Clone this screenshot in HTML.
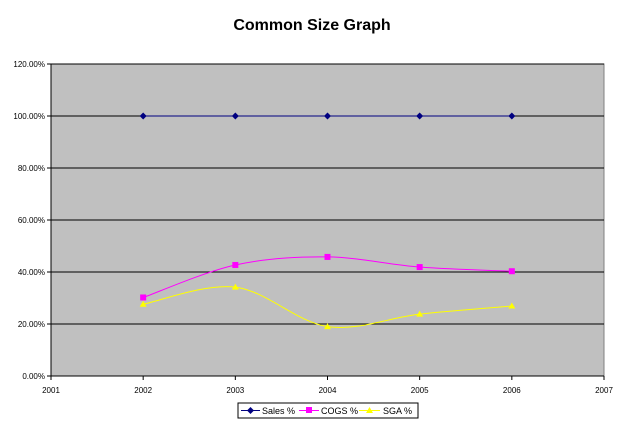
<!DOCTYPE html>
<html><head><meta charset="utf-8"><style>
body{margin:0;background:#fff;font-family:"Liberation Sans",Arial,sans-serif}
</style></head><body>
<svg id="c" width="625" height="429" style="display:block">
<text x="312" y="30" text-anchor="middle" font-size="16" font-weight="bold">Common Size Graph</text>
<g id="plot"></g>
<g>
<rect x="238" y="403" width="180" height="15" fill="#fff" stroke="#000"/>
<g><line x1="241" y1="410.5" x2="260" y2="410.5" stroke="#000080"/><path d="M250.5 407l3.5 3.5-3.5 3.5-3.5-3.5z" fill="#000080"/><text x="262" y="414" font-size="9">Sales %</text></g>
<g><line x1="299" y1="410.5" x2="319" y2="410.5" stroke="#f0f"/><rect x="306" y="407" width="6" height="6" fill="#f0f"/><text x="321" y="414" font-size="9">COGS %</text></g>
<g><line x1="359" y1="410.5" x2="380" y2="410.5" stroke="#ff0"/><path d="M369.5 407l3.5 6h-7z" fill="#ff0"/><text x="383" y="414" font-size="9">SGA %</text></g>
</g>
</svg>
<script>
const years=[2002,2003,2004,2005,2006];
const sales=[100,100,100,100,100];
const cogs=[30.2,42.7,45.8,41.9,40.3];
const sga=[27.6,34.2,19.0,23.8,26.9];
const yTicks=[0,20,40,60,80,100,120];
const xTicks=[2001,2002,2003,2004,2005,2006,2007];
const L=51,R=604,T=64,B=376;
const sx=v=>L+(v-2001)/6*(R-L), sy=v=>B-v/120*(B-T);
const NS="http://www.w3.org/2000/svg", g=document.getElementById('plot');
function mk(t,a,txt){const e=document.createElementNS(NS,t);for(const k in a)e.setAttribute(k,a[k]);if(txt!=null)e.textContent=txt;g.appendChild(e);return e;}
let e=mk('rect',{x:L,y:T,width:R-L,height:B-T,fill:'#c0c0c0',stroke:'#808080'});


yTicks.forEach(v=>{
 if(v>0){e=mk('line',{x1:L,x2:R,y1:sy(v),y2:sy(v),stroke:'#000'});
 
 }
 mk('line',{x1:L-4,x2:L,y1:sy(v),y2:sy(v),stroke:'#000'});
 e=mk('text',{x:L-6,y:sy(v)+3,'text-anchor':'end','font-size':8},v.toFixed(2)+'%');
 
 
});
mk('line',{x1:L,x2:L,y1:T,y2:B,stroke:'#000'});
mk('line',{x1:L,x2:R,y1:B,y2:B,stroke:'#000'});
xTicks.forEach(v=>{
 mk('line',{x1:sx(v),x2:sx(v),y1:B,y2:B+4,stroke:'#000'});
 e=mk('text',{x:sx(v),y:B+17,'text-anchor':'middle','font-size':8},v);
 
 
});
function smooth(p){let d='M'+p[0].join(' ');for(let i=0;i<p.length-1;i++){const p0=p[i-1]||p[i],p1=p[i],p2=p[i+1],p3=p[i+2]||p2;const t=1/6;d+=` C${p1[0]+(p2[0]-p0[0])*t} ${p1[1]+(p2[1]-p0[1])*t} ${p2[0]-(p3[0]-p1[0])*t} ${p2[1]-(p3[1]-p1[1])*t} ${p2[0]} ${p2[1]}`;}return d;}
function series(vals,col,shape,name){
 const pts=years.map((y,i)=>[sx(y),sy(vals[i])]);
 e=mk('path',{d:smooth(pts),fill:'none',stroke:col,'stroke-width':1});
 
 
 pts.forEach(([x,y])=>{
  let m;
  if(shape==='d')m=mk('path',{d:`M${x} ${y-3.5}l3.5 3.5-3.5 3.5-3.5-3.5z`,fill:col});
  else if(shape==='s')m=mk('rect',{x:x-3,y:y-3,width:6,height:6,fill:col});
  else m=mk('path',{d:`M${x} ${y-3.5}l3.5 6h-7z`,fill:col});
  
  
 });
}
series(sales,'#000080','d','sales');
series(cogs,'#ff00ff','s','cogs');
series(sga,'#ffff00','t','sga');
</script>
</body></html>
